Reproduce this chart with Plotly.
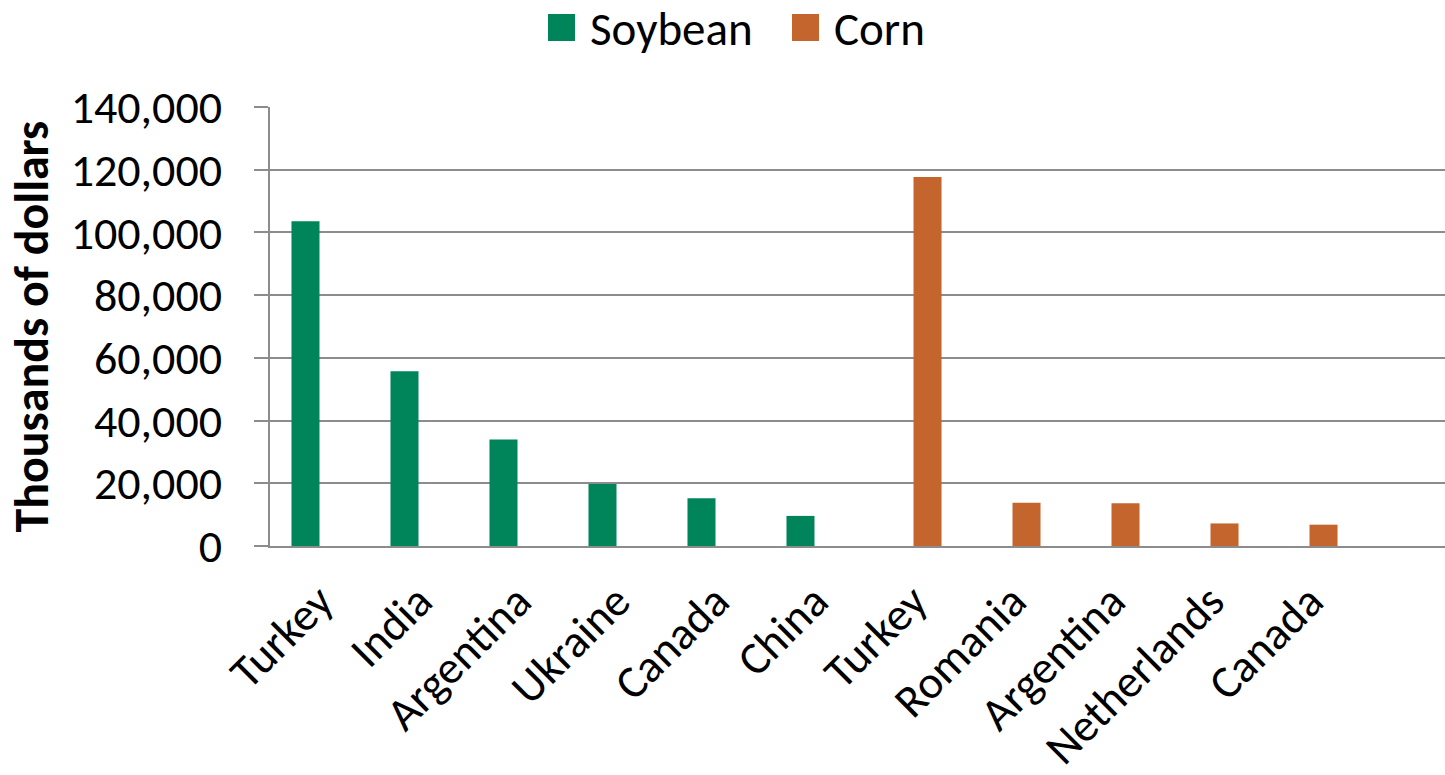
import plotly.graph_objects as go

categories = ["Turkey", "India", "Argentina", "Ukraine", "Canada", "China",
              "Turkey", "Romania", "Argentina", "Netherlands", "Canada"]
soybean = [103600, 55700, 34000, 19800, 15200, 9600, None, None, None, None, None]
corn = [None, None, None, None, None, None, 117700, 13800, 13600, 7200, 6800]
y_ticks = [0, 20000, 40000, 60000, 80000, 100000, 120000, 140000]

GREEN = "#00845A"
ORANGE = "#C4652D"
GRID = "#8c8c8c"
FONT = "Carlito, Calibri, Lato, sans-serif"

x = list(range(len(categories)))

fig = go.Figure()
fig.add_trace(go.Bar(x=x, y=soybean, name="Soybean", marker_color=GREEN,
                     marker_line_width=0, showlegend=False))
fig.add_trace(go.Bar(x=x, y=corn, name="Corn", marker_color=ORANGE,
                     marker_line_width=0, showlegend=False))

W, H = 1445, 775
L, R, T, B = 270, 0, 107, 229
pw = W - L - R
ph = H - T - B
cat_px = 99.0

def px_to_paper_x(px):
    return (px - L) / pw

def px_to_paper_y(py):
    return (H - B - py) / ph

# manual legend (larger squares than plotly's fixed legend icons)
legend_items = [("Soybean", GREEN, 548, 588), ("Corn", ORANGE, 792, 832)]
for name, col, sx, tx in legend_items:
    fig.add_shape(type="rect", xref="paper", yref="paper",
                  x0=px_to_paper_x(sx), x1=px_to_paper_x(sx + 27),
                  y0=px_to_paper_y(41), y1=px_to_paper_y(14),
                  fillcolor=col, line_width=0)
    fig.add_annotation(x=px_to_paper_x(tx), y=px_to_paper_y(29), xref="paper", yref="paper",
                       text=name, showarrow=False, xanchor="left", yanchor="middle",
                       font=dict(size=47, color="black", family=FONT))

fig.add_annotation(x=px_to_paper_x(31), y=0.5, xref="paper", yref="paper",
                   text="<b>Thousands of dollars</b>", textangle=-90, showarrow=False,
                   xanchor="center", yanchor="middle",
                   font=dict(size=48, color="black", family=FONT))

fig.update_layout(
    width=W, height=H,
    margin=dict(l=L, r=R, t=T, b=B, pad=0),
    paper_bgcolor="white", plot_bgcolor="white",
    barmode="group", bargap=0.434, bargroupgap=0,
    font=dict(family=FONT, color="black"),
    xaxis=dict(
        range=[-0.5, -0.5 + pw / cat_px],
        tickmode="array", tickvals=x, ticktext=categories,
        tickangle=-45, tickfont=dict(size=46, color="black", family=FONT),
        showgrid=False, zeroline=False,
        showline=True, linecolor=GRID, linewidth=1.5,
        ticks="", ticklabelstandoff=8,
    ),
    yaxis=dict(
        range=[0, 140000], tickmode="array", tickvals=y_ticks,
        tickformat=",", tickfont=dict(size=46, color="black", family=FONT),
        showgrid=True, gridcolor=GRID, gridwidth=1.5,
        zeroline=False, showline=True, linecolor=GRID, linewidth=1.5,
        ticks="outside", ticklen=14, tickcolor=GRID, tickwidth=1.5,
        ticklabelstandoff=23,
    ),
)

fig.write_html("out.html")
